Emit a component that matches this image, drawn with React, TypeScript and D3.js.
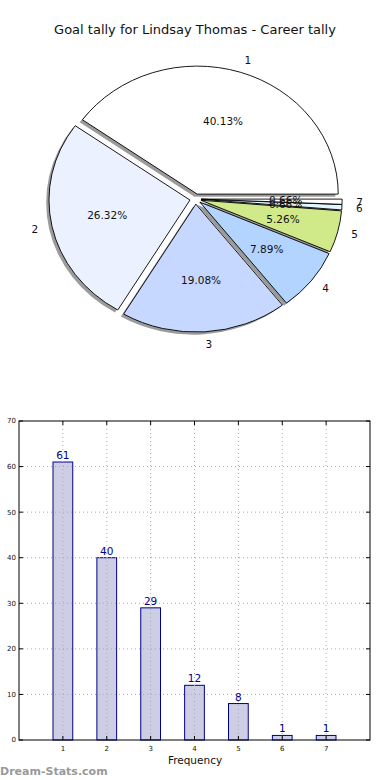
import React from "react";
import * as d3 from "d3";

const categories = ["1", "2", "3", "4", "5", "6", "7"];
const values = [61, 40, 29, 12, 8, 1, 1];
const pieColors = ["#ffffff", "#ebf1ff", "#c6d8ff", "#b3d4ff", "#d0ea8a", "#e2f6ff", "#ffffff"];
const yTicks = [0, 10, 20, 30, 40, 50, 60, 70];
const title = "Goal tally for Lindsay Thomas - Career tally";

const FONT = "DejaVu Sans, sans-serif";

export default function App() {
  // Pie geometry (elliptical, as in the reference)
  const cx = 195.5, cy = 199, rx = 141, ry = 128;
  const explode = 0.04;
  const total = d3.sum(values);
  let cum = 0;
  const slices = values.map((v, i) => {
    const t1 = (cum / total) * 2 * Math.PI; // matplotlib angle ccw from east
    cum += v;
    const t2 = (cum / total) * 2 * Math.PI;
    const mid = (t1 + t2) / 2;
    return { v, i, t1, t2, mid };
  });
  const arcGen = d3.arc();
  const unitPath = (s: any) =>
    arcGen({ innerRadius: 0, outerRadius: 1, startAngle: Math.PI / 2 - s.t2, endAngle: Math.PI / 2 - s.t1 } as any) as string;

  // Bar chart geometry
  const left = 19, right = 370, top = 421, bottom = 740;
  const x = d3.scaleLinear().domain([0, 8]).range([left, right]);
  const y = d3.scaleLinear().domain([0, 70]).range([bottom, top]);
  const barW = 0.45;
  const xt = categories.map((c, i) => i + 1);

  return (
    <svg width={390} height={780} style={{ position: "absolute", left: 0, top: 0, background: "#fff" }} fontFamily={FONT}>
      <text x={195} y={34} textAnchor="middle" fontSize={13} fill="#111">{title}</text>

      {/* shadows */}
      {slices.map((s) => {
        const ox = cx + Math.cos(s.mid) * explode * rx - 0.02 * rx;
        const oy = cy - Math.sin(s.mid) * explode * ry + 0.02 * ry;
        return (
          <path key={"sh" + s.i} d={unitPath(s)} transform={`translate(${ox},${oy}) scale(${rx},${ry})`}
            fill="#7a7a7a" fillOpacity={0.75} stroke="none" />
        );
      })}
      {slices.map((s) => {
        const ox = cx + Math.cos(s.mid) * explode * rx;
        const oy = cy - Math.sin(s.mid) * explode * ry;
        return (
          <path key={"sl" + s.i} d={unitPath(s)} transform={`translate(${ox},${oy}) scale(${rx},${ry})`}
            fill={pieColors[s.i]} stroke="#000" strokeWidth={0.9} vectorEffect="non-scaling-stroke" />
        );
      })}
      {slices.map((s) => {
        const lx = cx + Math.cos(s.mid) * (1.1 + explode) * rx;
        const ly = cy - Math.sin(s.mid) * (1.1 + explode) * ry;
        const px = cx + Math.cos(s.mid) * (0.6 + explode) * rx;
        const py = cy - Math.sin(s.mid) * (0.6 + explode) * ry;
        return (
          <g key={"lb" + s.i}>
            <text x={lx} y={ly} dy="0.35em" fontSize={10.5} fill="#111"
              textAnchor={Math.cos(s.mid) >= 0 ? "start" : "end"}>{categories[s.i]}</text>
            <text x={px} y={py} dy="0.35em" fontSize={10.5} fill="#111" textAnchor="middle">
              {((s.v / total) * 100).toFixed(2) + "%"}
            </text>
          </g>
        );
      })}

      {/* bar chart */}
      <rect x={left} y={top} width={right - left} height={bottom - top} fill="#fff" />
      {values.map((v, i) => (
        <rect key={"b" + i} x={x(xt[i] - barW / 2)} y={y(v)} width={x(barW) - x(0)} height={y(0) - y(v)}
          fill="#cdcde4" stroke="#00008b" strokeWidth={1} />
      ))}
      {yTicks.slice(1, -1).map((t) => (
        <line key={"gy" + t} x1={left} x2={right} y1={y(t)} y2={y(t)} stroke="#aaa" strokeWidth={1} strokeDasharray="1,3" />
      ))}
      {xt.map((t) => (
        <line key={"gx" + t} x1={x(t)} x2={x(t)} y1={top} y2={bottom} stroke="#aaa" strokeWidth={1} strokeDasharray="1,3" />
      ))}
      {values.map((v, i) => (
        <text key={"v" + i} x={x(xt[i])} y={y(v) - 3} textAnchor="middle" fontSize={10.5} fill="#00008b">{v}</text>
      ))}
      {/* ticks */}
      {yTicks.map((t) => (
        <g key={"ty" + t}>
          <line x1={left} x2={left + 4} y1={y(t)} y2={y(t)} stroke="#000" />
          <line x1={right - 4} x2={right} y1={y(t)} y2={y(t)} stroke="#000" />
          <text x={left - 3} y={y(t)} dy="0.35em" textAnchor="end" fontSize={7} fill="#111">{t}</text>
        </g>
      ))}
      {xt.map((t) => (
        <g key={"tx" + t}>
          <line x1={x(t)} x2={x(t)} y1={bottom} y2={bottom - 4} stroke="#000" />
          <line x1={x(t)} x2={x(t)} y1={top} y2={top + 4} stroke="#000" />
          <text x={x(t)} y={bottom + 11} textAnchor="middle" fontSize={7} fill="#111">{t}</text>
        </g>
      ))}
      <rect x={left} y={top} width={right - left} height={bottom - top} fill="none" stroke="#000" strokeWidth={1} />
      <text x={195} y={764} textAnchor="middle" fontSize={10.5} fill="#111">Frequency</text>
      <text x={0} y={775} fontSize={11} fontWeight="bold" fill="#999">Dream-Stats.com</text>
    </svg>
  );
}
